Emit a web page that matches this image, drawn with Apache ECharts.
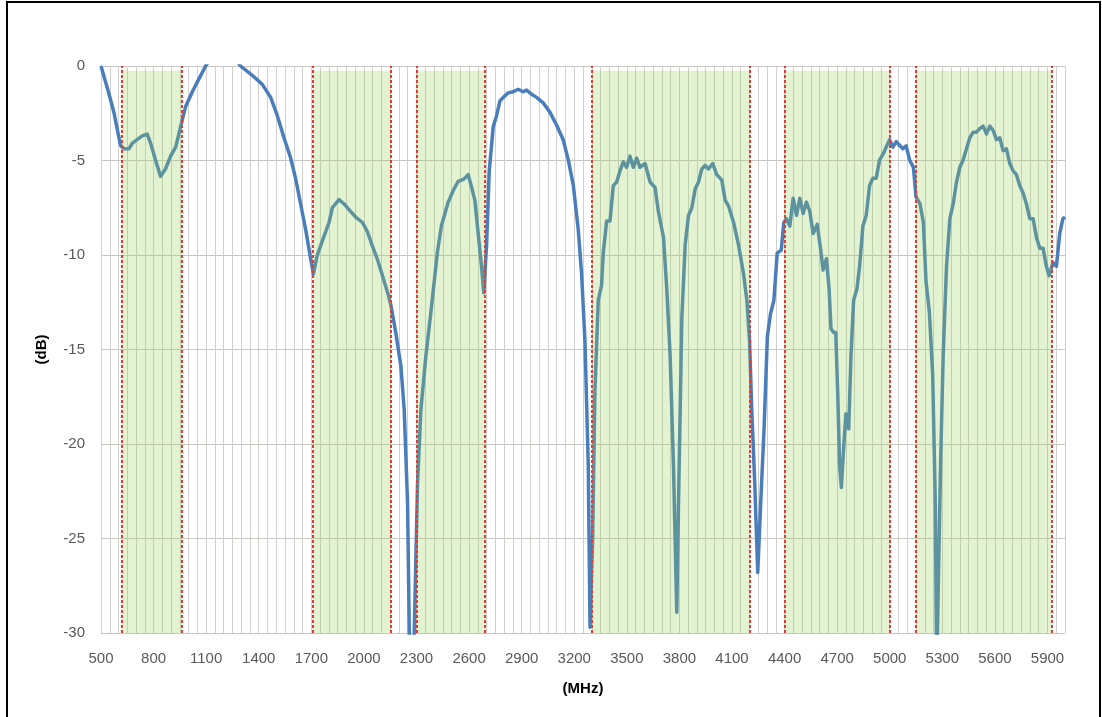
<!DOCTYPE html>
<html>
<head>
<meta charset="utf-8">
<script src="https://cdn.jsdelivr.net/npm/echarts@6/dist/echarts.min.js"></script>
<style>
  html, body { margin: 0; padding: 0; background: #ffffff; }
  #chart { width: 1102px; height: 717px; }
</style>
</head>
<body>
<div id="chart"></div>
<script>
// Frequency sweep (MHz) and measured response (dB)
const freqMHz = [
  500, 545, 573, 611, 630, 659, 678, 706, 735, 764, 783, 811, 840, 868, 897, 926, 954, 983,
  1021, 1059, 1097, 1140, 1200, 1255, 1296, 1363, 1420, 1468, 1506, 1544, 1582, 1610, 1639,
  1668, 1696, 1712, 1734, 1763, 1801, 1820, 1858, 1887, 1915, 1953, 1992, 2020, 2049, 2077,
  2106, 2135, 2154, 2182, 2211, 2230, 2249, 2262, 2282, 2306, 2325, 2354, 2380, 2420, 2442,
  2481, 2509, 2538, 2567, 2595, 2614, 2633, 2652, 2671, 2684, 2700, 2715, 2738, 2757, 2776,
  2795, 2823, 2852, 2880, 2909, 2928, 2957, 2985, 3023, 3061, 3099, 3137, 3166, 3195, 3223,
  3242, 3261, 3280, 3290, 3305, 3318, 3337, 3356, 3366, 3385, 3404, 3423, 3442, 3461, 3480,
  3499, 3518, 3537, 3556, 3575, 3604, 3633, 3661, 3680, 3709, 3728, 3747, 3766, 3785, 3795,
  3814, 3833, 3852, 3871, 3890, 3909, 3928, 3947, 3966, 3990, 4013, 4042, 4061, 4080, 4109,
  4137, 4166, 4185, 4200, 4213, 4230, 4247, 4264, 4283, 4302, 4320, 4339, 4358, 4381, 4396,
  4411, 4430, 4449, 4468, 4487, 4506, 4525, 4544, 4563, 4586, 4605, 4620, 4639, 4654, 4665,
  4680, 4692, 4703, 4714, 4724, 4737, 4750, 4766, 4779, 4794, 4813, 4828, 4847, 4866, 4885,
  4904, 4923, 4942, 4961, 4980, 4999, 5018, 5037, 5056, 5075, 5094, 5113, 5135, 5150, 5173,
  5192, 5207, 5226, 5245, 5260, 5268, 5278, 5290, 5305, 5324, 5343, 5362, 5381, 5400, 5419,
  5438, 5457, 5476, 5495, 5514, 5533, 5552, 5571, 5590, 5609, 5628, 5647, 5666, 5685, 5704,
  5723, 5742, 5761, 5780, 5799, 5818, 5837, 5856, 5875, 5894, 5909, 5932, 5951, 5970, 5988,
  6000
];
const responseDb = [
  0, -1.46, -2.43, -4.19, -4.38, -4.38, -4.09, -3.9, -3.7, -3.6, -4.09, -4.97, -5.84, -5.45, -4.77, -4.29, -3.21, -2.14,
  -1.36, -0.68, 0, 0.6, 0.9, 0.5, 0, -0.49, -0.97, -1.66, -2.63, -3.8, -4.87, -5.94, -7.3,
  -8.67, -10.2, -11.0, -10.0, -9.25, -8.28, -7.5, -7.07, -7.3, -7.6, -7.99, -8.28, -8.77, -9.55, -10.23,
  -11.1, -11.98, -12.66, -14.12, -15.88, -18.2, -23.1, -32, -32, -22.1, -18.2, -15.3, -13.2, -9.8, -8.47,
  -7.2, -6.6, -6.1, -6.0, -5.75, -6.4, -7.1, -8.86, -10.6, -12.0, -9.45, -5.55, -3.2, -2.63, -1.85,
  -1.66, -1.42, -1.36, -1.23, -1.36, -1.27, -1.5, -1.66, -1.95, -2.44, -3.12, -3.9, -4.97, -6.33, -8.67,
  -11.0, -14.5, -21.1, -29.7, -25.0, -17.2, -12.4, -11.6, -9.84, -8.2, -8.2, -6.33, -6.14, -5.55, -5.07,
  -5.36, -4.77, -5.36, -4.87, -5.36, -5.16, -6.14, -6.43, -7.7, -9.06, -11.8, -15.3, -21.1, -28.9, -23.1,
  -13.3, -9.45, -7.9, -7.5, -6.5, -6.14, -5.45, -5.26, -5.45, -5.16, -5.75, -6.04, -7.1, -7.4, -8.28,
  -9.45, -11.0, -12.4, -14.5, -18.2, -22.1, -26.8, -23.1, -19.2, -14.3, -13.1, -12.4, -9.9, -9.74, -8.28,
  -8.08, -8.47, -7.0, -7.9, -7.0, -7.8, -7.2, -7.7, -8.86, -8.38, -9.64, -10.8, -10.2, -11.8, -13.9,
  -14.1, -14.1, -17.2, -21.1, -22.3, -20.2, -18.4, -19.2, -15.3, -12.4, -11.8, -10.6, -8.47, -7.9, -6.33,
  -5.94, -5.94, -4.97, -4.68, -4.29, -3.9, -4.29, -4.0, -4.19, -4.38, -4.23, -4.97, -5.36, -6.92, -7.3,
  -8.28, -11.4, -13.0, -16.3, -23.1, -32, -32, -21.1, -15.3, -10.6, -8.08, -7.3, -6.14, -5.36, -4.97,
  -4.38, -3.8, -3.5, -3.5, -3.31, -3.18, -3.6, -3.18, -3.41, -3.9, -3.8, -4.48, -4.38, -5.16, -5.55,
  -5.75, -6.33, -6.72, -7.3, -8.08, -8.08, -9.06, -9.64, -9.64, -10.6, -11.1, -10.4, -10.6, -8.86, -8.08,
  -7.99
];

// Operating bands (MHz): shaded and bounded by dashed markers
const bandStart = [617, 1710, 2300, 3300, 4400, 5150];
const bandEnd   = [960, 2155, 2690, 4200, 5000, 5925];

// Axis settings
const xMin = 500, xMax = 6000, xGridStep = 50, xLabelStep = 300, xLastLabel = 5900;
const yMin = -30, yMax = 0, yStep = 5;
const bandTop = -0.25;

const seriesData = freqMHz.map((f, i) => [f, responseDb[i]]);
const bandAreas = bandStart.map((s, i) => [
  { xAxis: s, yAxis: bandTop },
  { xAxis: bandEnd[i], yAxis: yMin }
]);
const bandEdges = [];
bandStart.forEach((s, i) => { bandEdges.push({ xAxis: s }); bandEdges.push({ xAxis: bandEnd[i] }); });

const labelFont = { color: '#595959', fontSize: 15, fontFamily: 'Liberation Sans, Arial, sans-serif' };

const chart = echarts.init(document.getElementById('chart'), null, { renderer: 'canvas' });
chart.setOption({
  animation: false,
  backgroundColor: '#ffffff',
  grid: { left: 101, right: 37, top: 66, bottom: 84, containLabel: false },
  xAxis: {
    type: 'value',
    min: xMin,
    max: xMax,
    interval: xGridStep,
    name: '(MHz)',
    nameLocation: 'middle',
    nameGap: 48,
    nameTextStyle: { color: '#000000', fontSize: 15, fontWeight: 'bold', fontFamily: 'Liberation Sans, Arial, sans-serif' },
    axisLine: { show: false },
    axisTick: { show: false },
    axisLabel: Object.assign({
      margin: 18,
      formatter: v => ((v - xMin) % xLabelStep === 0 && v <= xLastLabel) ? String(v) : ''
    }, labelFont),
    splitLine: { show: true, lineStyle: { color: '#d2d0cc', width: 1 } }
  },
  yAxis: {
    type: 'value',
    min: yMin,
    max: yMax,
    interval: yStep,
    name: '(dB)',
    nameLocation: 'middle',
    nameGap: 52,
    nameRotate: 90,
    nameTextStyle: { color: '#000000', fontSize: 15, fontWeight: 'bold', fontFamily: 'Liberation Sans, Arial, sans-serif' },
    axisLine: { show: false },
    axisTick: { show: false },
    axisLabel: Object.assign({ margin: 16 }, labelFont),
    splitLine: { show: true, lineStyle: { color: '#c9c6c2', width: 1 } }
  },
  series: [
    {
      name: 'Response',
      type: 'line',
      z: 2,
      data: seriesData,
      showSymbol: false,
      clip: true,
      lineStyle: { color: '#4a7ebb', width: 3.5, join: 'round' }
    },
    {
      name: 'Bands',
      type: 'line',
      z: 5,
      data: [],
      markArea: {
        silent: true,
        z: 5,
        itemStyle: { color: 'rgba(146, 208, 80, 0.26)' },
        data: bandAreas
      },
      markLine: {
        silent: true,
        z: 6,
        symbol: ['none', 'none'],
        label: { show: false },
        lineStyle: { color: '#e23b35', width: 2, type: [3, 2] },
        data: bandEdges
      }
    }
  ],
  graphic: [
    {
      type: 'rect',
      shape: { x: 7, y: 2, width: 1093, height: 730 },
      style: { fill: 'none', stroke: '#000000', lineWidth: 2 },
      silent: true
    }
  ]
});
</script>
</body>
</html>
